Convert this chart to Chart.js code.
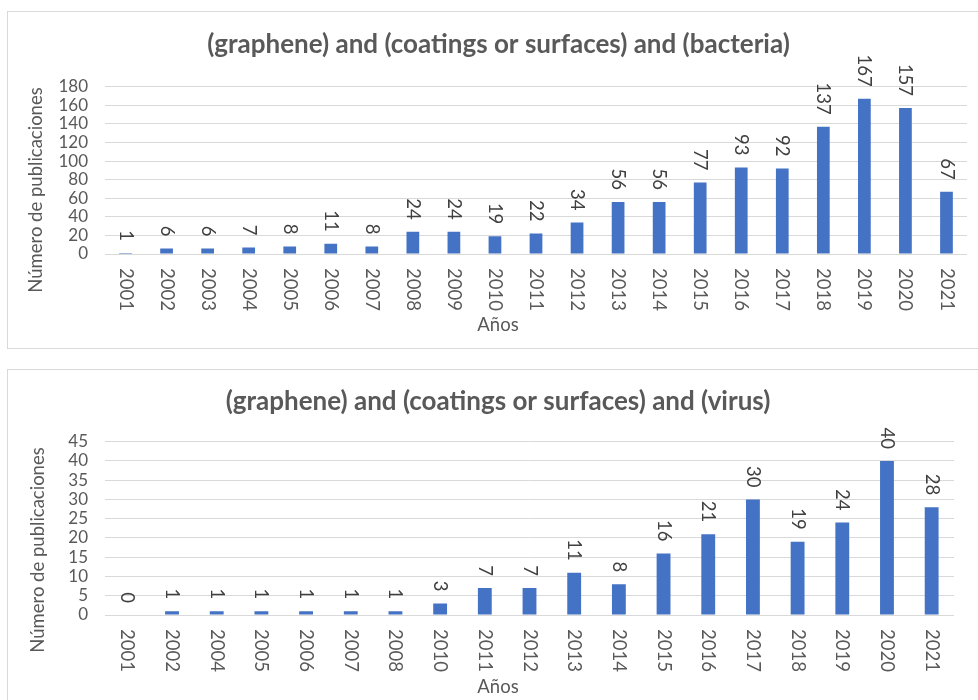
<!DOCTYPE html>
<html lang="es">
<head>
<meta charset="utf-8">
<title>Publicaciones grafeno</title>
<script src="https://cdn.jsdelivr.net/npm/chart.js@4.4.1/dist/chart.umd.min.js"></script>
<style>
  body { margin: 0; background: #fff; overflow: hidden; width: 978px; height: 700px; position: relative; }
  .box { position: absolute; left: 7px; border: 1px solid #d9d9d9; background: #fff; }
  #boxBacteria { top: 11px; width: 983px; height: 336px; }
  #boxVirus { top: 369px; width: 983px; height: 340px; }
  canvas { display: block; }
</style>
</head>
<body>
<div class="box" id="boxBacteria"><canvas id="bacteriaChart" width="983" height="336"></canvas></div>
<div class="box" id="boxVirus"><canvas id="virusChart" width="983" height="340"></canvas></div>
<script>
// Data
const bacteriaYears = ['2001', '2002', '2003', '2004', '2005', '2006', '2007', '2008', '2009', '2010', '2011',
  '2012', '2013', '2014', '2015', '2016', '2017', '2018', '2019', '2020', '2021'];
const bacteriaCounts = [1, 6, 6, 7, 8, 11, 8, 24, 24, 19, 22, 34, 56, 56, 77, 93, 92, 137, 167, 157, 67];

const virusYears = ['2001', '2002', '2004', '2005', '2006', '2007', '2008', '2010', '2011',
  '2012', '2013', '2014', '2015', '2016', '2017', '2018', '2019', '2020', '2021'];
const virusCounts = [0, 1, 1, 1, 1, 1, 1, 3, 7, 7, 11, 8, 16, 21, 30, 19, 24, 40, 28];

const bacteriaTitle = '(graphene) and (coatings or surfaces) and (bacteria)';
const virusTitle = '(graphene) and (coatings or surfaces) and (virus)';
const xTitle = 'Años';
const yTitle = 'Número de publicaciones';

const FONT = 'Lato, "Open Sans", sans-serif';
const GREY = '#595959';
const BAR_BLUE = '#4472C4';

Chart.defaults.font.family = FONT;

// Excel writes the year and value labels rotated clockwise, Chart.js can't,
// so they are drawn here from the scale/bar positions
const excelLabels = {
  id: 'excelLabels',
  afterDraw(chart, args, opts) {
    const ctx = chart.ctx;
    const area = chart.chartArea;
    const xScale = chart.scales.x;
    const values = chart.data.datasets[0].data;

    ctx.save();
    ctx.textBaseline = 'middle';

    // year labels under the axis
    ctx.fillStyle = GREY;
    ctx.font = '18.5px ' + FONT;
    ctx.textAlign = 'left';
    chart.data.labels.forEach((label, i) => {
      ctx.save();
      ctx.translate(xScale.getPixelForValue(i), area.bottom + 14);
      ctx.rotate(Math.PI / 2);
      ctx.fillText(label, 0, 0);
      ctx.restore();
    });

    // values above each bar
    ctx.fillStyle = '#404040';
    ctx.textAlign = 'right';
    chart.getDatasetMeta(0).data.forEach((bar, i) => {
      ctx.save();
      ctx.translate(bar.x, bar.y - 12);
      ctx.rotate(Math.PI / 2);
      ctx.fillText(String(values[i]), 0, 0);
      ctx.restore();
    });

    // axis titles
    ctx.fillStyle = GREY;
    ctx.font = '18.5px ' + FONT;
    ctx.textAlign = 'center';
    ctx.fillText(xTitle, opts.xTitleX, opts.xTitleY);
    ctx.translate(opts.yTitleX, opts.yTitleY);
    ctx.rotate(-Math.PI / 2);
    ctx.fillText(yTitle, 0, 0);
    ctx.restore();
  }
};

function makeChart(canvasId, title, years, counts, cfg) {
  const ctx = document.getElementById(canvasId).getContext('2d');

  return new Chart(ctx, {
    type: 'bar',
    data: {
      labels: years,
      datasets: [{
        data: counts,
        backgroundColor: BAR_BLUE,
        borderWidth: 0,
        barPercentage: 0.31,
        categoryPercentage: 1
      }]
    },
    options: {
      responsive: false,
      animation: false,
      devicePixelRatio: 1,
      layout: {
        padding: { top: cfg.padTop, left: cfg.padLeft, right: cfg.padRight, bottom: 0 }
      },
      scales: {
        x: {
          grid: { display: false },
          border: { display: false },
          ticks: { display: false },
          afterFit: (scale) => { scale.height = cfg.xHeight; }
        },
        y: {
          min: 0,
          max: cfg.yMax,
          grid: { color: '#d9d9d9', drawTicks: false },
          border: { display: false },
          ticks: {
            stepSize: cfg.yStep,
            autoSkip: false,
            padding: 17,
            color: GREY,
            font: { size: 17 }
          },
          afterFit: (scale) => { scale.width = cfg.yWidth; }
        }
      },
      plugins: {
        legend: { display: false },
        tooltip: { enabled: false },
        title: {
          display: true,
          text: title,
          color: GREY,
          font: { size: 26, weight: 'bold' },
          padding: { top: 0, bottom: cfg.titleGap }
        },
        excelLabels: {
          xTitleX: 490,
          xTitleY: cfg.xTitleY,
          yTitleX: cfg.yTitleX,
          yTitleY: cfg.yTitleY
        }
      }
    },
    plugins: [excelLabels]
  });
}

makeChart('bacteriaChart', bacteriaTitle, bacteriaYears, bacteriaCounts, {
  yMax: 180, yStep: 20,
  padTop: 17.4, padLeft: 22, padRight: 24,
  titleGap: 26.1, yWidth: 75, xHeight: 94,
  xTitleY: 313, yTitleX: 28, yTitleY: 178
});

makeChart('virusChart', virusTitle, virusYears, virusCounts, {
  yMax: 45, yStep: 5,
  padTop: 16.4, padLeft: 34, padRight: 37,
  titleGap: 24.1, yWidth: 63, xHeight: 95,
  xTitleY: 317, yTitleX: 30, yTitleY: 180
});
</script>
</body>
</html>
